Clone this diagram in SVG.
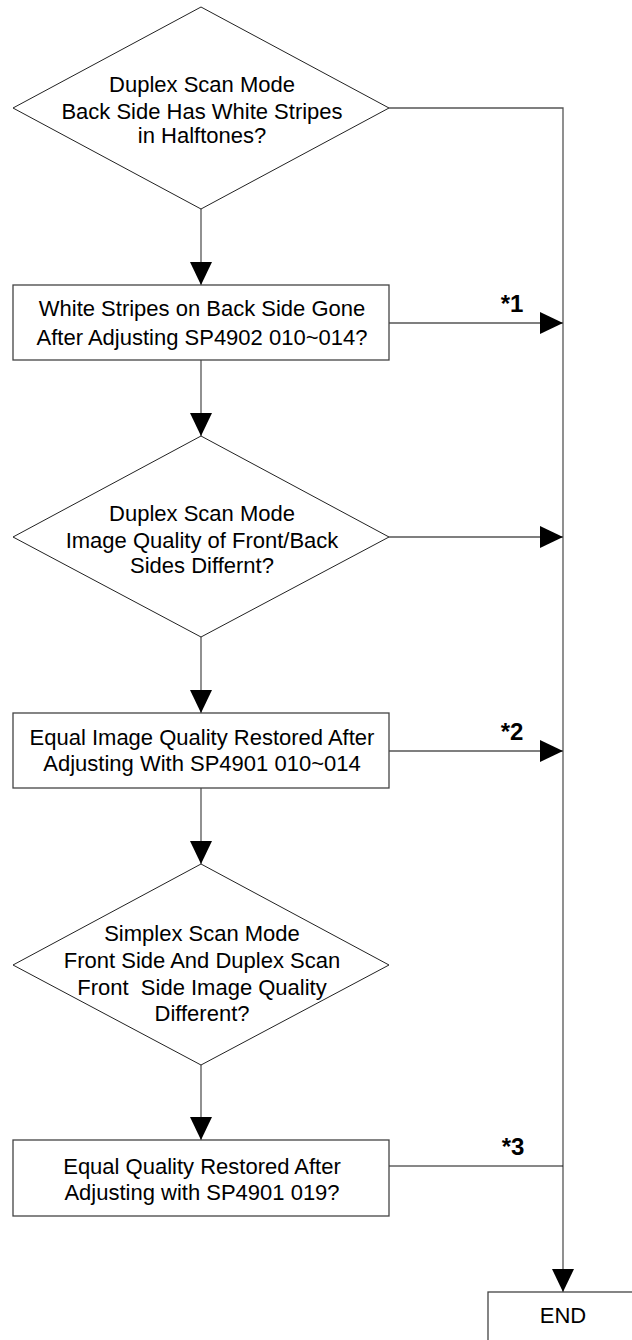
<svg xmlns="http://www.w3.org/2000/svg" width="632" height="1340" viewBox="0 0 632 1340">
<defs>
<marker id="ah" markerUnits="userSpaceOnUse" markerWidth="24" markerHeight="24" refX="23" refY="11" orient="auto">
<path d="M0,0 L23,11 L0,22 Z" fill="#000"/>
</marker>
<style>
.shape{fill:#fff;stroke:#222;stroke-width:1}
.box{fill:#fff;stroke:#444;stroke-width:1.3}
.c{fill:none;stroke:#555;stroke-width:1.3}
.k{fill:none;stroke:#111;stroke-width:1}
.t{font-family:"Liberation Sans",Arial,sans-serif;font-size:22px;fill:#000;text-anchor:middle}
.lb{font-family:"Liberation Sans",Arial,sans-serif;font-size:24px;font-weight:bold;fill:#000;text-anchor:middle}
</style>
</defs>
<rect width="632" height="1340" fill="#fff"/>
<g id="connectors">
<path class="c" d="M389,108 H563 V1292" marker-end="url(#ah)"/>
<path class="c" d="M201,209 V285" marker-end="url(#ah)"/>
<path class="c" d="M389,323 H563" marker-end="url(#ah)"/>
<path class="c" d="M201,360 V436" marker-end="url(#ah)"/>
<path class="c" d="M389,537 H563" marker-end="url(#ah)"/>
<path class="c" d="M201,637 V713" marker-end="url(#ah)"/>
<path class="c" d="M389,751 H563" marker-end="url(#ah)"/>
<path class="c" d="M201,788 V864" marker-end="url(#ah)"/>
<path class="c" d="M201,1065 V1140" marker-end="url(#ah)"/>
<path class="k" d="M389,1166 H563"/>
<text class="lb" x="512" y="312">*1</text>
<text class="lb" x="512" y="740">*2</text>
<text class="lb" x="513" y="1155">*3</text>
</g>
<g id="d1">
<polygon class="shape" points="201,7 389,108 201,209 13,108"/>
<text class="t" x="202" y="92">Duplex Scan Mode</text>
<text class="t" x="202" y="119">Back Side Has White Stripes</text>
<text class="t" x="202" y="143">in Halftones?</text>
</g>
<g id="b1">
<rect class="box" x="13" y="285" width="376" height="75"/>
<text class="t" x="202" y="316">White Stripes on Back Side Gone</text>
<text class="t" x="202" y="345">After Adjusting SP4902 010~014?</text>
</g>
<g id="d2">
<polygon class="shape" points="201,436 389,537 201,637 13,537"/>
<text class="t" x="202" y="521">Duplex Scan Mode</text>
<text class="t" x="202" y="548">Image Quality of Front/Back</text>
<text class="t" x="202" y="573">Sides Differnt?</text>
</g>
<g id="b2">
<rect class="box" x="13" y="713" width="376" height="75"/>
<text class="t" x="202" y="745">Equal Image Quality Restored After</text>
<text class="t" x="202" y="771">Adjusting With SP4901 010~014</text>
</g>
<g id="d3">
<polygon class="shape" points="201,864 389,965 201,1065 13,965"/>
<text class="t" x="202" y="941">Simplex Scan Mode</text>
<text class="t" x="202" y="968">Front Side And Duplex Scan</text>
<text class="t" x="202" y="995" xml:space="preserve">Front  Side Image Quality</text>
<text class="t" x="202" y="1021">Different?</text>
</g>
<g id="b3">
<rect class="box" x="13" y="1140" width="376" height="76"/>
<text class="t" x="202" y="1174">Equal Quality Restored After</text>
<text class="t" x="202" y="1200">Adjusting with SP4901 019?</text>
</g>
<g id="end">
<rect class="box" x="488" y="1292" width="160" height="70"/>
<text class="t" x="563" y="1323">END</text>
</g>
</svg>
